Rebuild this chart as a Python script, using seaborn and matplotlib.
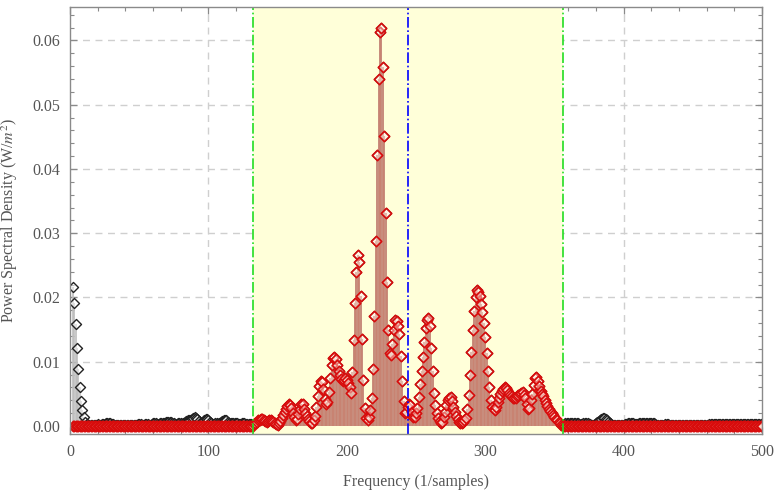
import numpy as np
import pandas as pd
import matplotlib
matplotlib.use("Agg")
import matplotlib.pyplot as plt
import seaborn as sns
from matplotlib.ticker import MultipleLocator, FormatStrFormatter

# Power spectrum, one value per frequency bin (first bin = 2)
psd_low = [
    0.0217, 0.0192, 0.0159, 0.0122, 0.0089, 0.0060, 0.0039, 0.0025, 0.0014, 0.0007,  # 2-11
    0.0003, 0.0002, 0.0002, 0.0002, 0.0001, 0.0002, 0.0002, 0.0002, 0.0003, 0.0002,  # 12-21
    0.0002, 0.0003, 0.0003, 0.0003, 0.0004, 0.0004, 0.0004, 0.0004, 0.0003, 0.0003,  # 22-31
    0.0002, 0.0002, 0.0002, 0.0001, 0.0002, 0.0002, 0.0002, 0.0002, 0.0001, 0.0001,  # 32-41
    0.0002, 0.0002, 0.0002, 0.0002, 0.0001, 0.0002, 0.0002, 0.0003, 0.0003, 0.0003,  # 42-51
    0.0002, 0.0002, 0.0003, 0.0003, 0.0003, 0.0002, 0.0002, 0.0003, 0.0004, 0.0004,  # 52-61
    0.0004, 0.0003, 0.0003, 0.0004, 0.0004, 0.0004, 0.0005, 0.0006, 0.0007, 0.0007,  # 62-71
    0.0007, 0.0006, 0.0005, 0.0004, 0.0003, 0.0003, 0.0004, 0.0004, 0.0004, 0.0003,  # 72-81
    0.0004, 0.0006, 0.0008, 0.0009, 0.0010, 0.0010, 0.0011, 0.0013, 0.0014, 0.0013,  # 82-91
    0.0011, 0.0008, 0.0005, 0.0004, 0.0006, 0.0009, 0.0011, 0.0011, 0.0009, 0.0006,  # 92-101
    0.0004, 0.0003, 0.0003, 0.0004, 0.0004, 0.0003, 0.0004, 0.0006, 0.0008, 0.0010,  # 102-111
    0.0010, 0.0009, 0.0007, 0.0005, 0.0004, 0.0004, 0.0005, 0.0005, 0.0004, 0.0004,  # 112-121
    0.0003, 0.0003, 0.0004, 0.0004, 0.0004, 0.0003, 0.0003, 0.0003, 0.0003, 0.0003,  # 122-131
    0.0003,                                                                          # 132
]
psd_pass = [
    0.0003, 0.0005, 0.0007, 0.0009, 0.0010, 0.0011, 0.0011, 0.0010, 0.0008, 0.0007,  # 133-142
    0.0008, 0.0009, 0.0009, 0.0008, 0.0006, 0.0004, 0.0003, 0.0002, 0.0004, 0.0008,  # 143-152
    0.0012, 0.0017, 0.0022, 0.0027, 0.0031, 0.0034, 0.0033, 0.0028, 0.0021, 0.0014,  # 153-162
    0.0010, 0.0011, 0.0018, 0.0027, 0.0034, 0.0035, 0.0027, 0.0020, 0.0015, 0.0011,  # 163-172
    0.0008, 0.0004, 0.0005, 0.0009, 0.0016, 0.0030, 0.0046, 0.0062, 0.0070, 0.0068,  # 173-182
    0.0058, 0.0042, 0.0034, 0.0038, 0.0053, 0.0075, 0.0095, 0.0106, 0.0108, 0.0104,  # 183-192
    0.0095, 0.0086, 0.0079, 0.0073, 0.0070, 0.0072, 0.0074, 0.0072, 0.0067, 0.0060,  # 193-202
    0.0052, 0.0084, 0.0134, 0.0192, 0.0240, 0.0266, 0.0255, 0.0203, 0.0135, 0.0072,  # 203-212
    0.0028, 0.0012, 0.0010, 0.0014, 0.0025, 0.0043, 0.0088, 0.0171, 0.0288, 0.0422,  # 213-222
    0.0540, 0.0613, 0.0620, 0.0558, 0.0452, 0.0331, 0.0224, 0.0149, 0.0114, 0.0111,  # 223-232
    0.0127, 0.0150, 0.0165, 0.0163, 0.0155, 0.0143, 0.0109, 0.0070, 0.0039, 0.0020,  # 233-242
    0.0022, 0.0030, 0.0035, 0.0032, 0.0022, 0.0014, 0.0014, 0.0020, 0.0028, 0.0045,  # 243-252
    0.0065, 0.0085, 0.0108, 0.0130, 0.0152, 0.0165, 0.0168, 0.0155, 0.0122, 0.0085,  # 253-262
    0.0052, 0.0032, 0.0020, 0.0013, 0.0008, 0.0005, 0.0007, 0.0014, 0.0022, 0.0032,  # 263-272
    0.0040, 0.0044, 0.0045, 0.0039, 0.0030, 0.0022, 0.0016, 0.0011, 0.0006, 0.0004,  # 273-282
    0.0004, 0.0007, 0.0010, 0.0013, 0.0026, 0.0049, 0.0079, 0.0115, 0.0150, 0.0179,  # 283-292
    0.0201, 0.0211, 0.0209, 0.0202, 0.0190, 0.0177, 0.0160, 0.0138, 0.0113, 0.0085,  # 293-302
    0.0060, 0.0040, 0.0030, 0.0026, 0.0025, 0.0030, 0.0038, 0.0044, 0.0050, 0.0055,  # 303-312
    0.0058, 0.0060, 0.0059, 0.0056, 0.0052, 0.0048, 0.0046, 0.0044, 0.0043, 0.0044,  # 313-322
    0.0046, 0.0048, 0.0050, 0.0052, 0.0053, 0.0049, 0.0044, 0.0034, 0.0027, 0.0028,  # 323-332
    0.0040, 0.0050, 0.0064, 0.0075, 0.0077, 0.0070, 0.0062, 0.0055, 0.0050, 0.0046,  # 333-342
    0.0041, 0.0036, 0.0031, 0.0027, 0.0024, 0.0021, 0.0017, 0.0014, 0.0011, 0.0009,  # 343-352
    0.0006, 0.0004, 0.0002, 0.0001,                                                  # 353-356
]
psd_high = [
    0.0003, 0.0004, 0.0005, 0.0005, 0.0005, 0.0004, 0.0004, 0.0005, 0.0005, 0.0005,  # 357-366
    0.0004, 0.0003, 0.0003, 0.0003, 0.0004, 0.0004, 0.0004, 0.0004, 0.0003, 0.0003,  # 367-376
    0.0002, 0.0002, 0.0003, 0.0004, 0.0006, 0.0008, 0.0010, 0.0011, 0.0012, 0.0012,  # 377-386
    0.0011, 0.0009, 0.0007, 0.0005, 0.0003, 0.0002, 0.0002, 0.0002, 0.0002, 0.0001,  # 387-396
    0.0002, 0.0002, 0.0002, 0.0002, 0.0003, 0.0003, 0.0004, 0.0005, 0.0005, 0.0005,  # 397-406
    0.0004, 0.0003, 0.0003, 0.0003, 0.0004, 0.0004, 0.0004, 0.0005, 0.0005, 0.0005,  # 407-416
    0.0004, 0.0004, 0.0004, 0.0005, 0.0005, 0.0004, 0.0003, 0.0002, 0.0002, 0.0002,  # 417-426
    0.0002, 0.0002, 0.0002, 0.0003, 0.0003, 0.0003, 0.0002, 0.0002, 0.0002, 0.0002,  # 427-436
    0.0001, 0.0001, 0.0002, 0.0002, 0.0002, 0.0001, 0.0001, 0.0001, 0.0001, 0.0001,  # 437-446
    0.0001, 0.0001, 0.0001, 0.0001, 0.0001, 0.0001, 0.0002, 0.0002, 0.0002, 0.0002,  # 447-456
    0.0002, 0.0002, 0.0002, 0.0002, 0.0002, 0.0003, 0.0003, 0.0003, 0.0003, 0.0003,  # 457-466
    0.0003, 0.0003, 0.0003, 0.0003, 0.0003, 0.0003, 0.0003, 0.0003, 0.0003, 0.0003,  # 467-476
    0.0003, 0.0003, 0.0003, 0.0003, 0.0003, 0.0003, 0.0003, 0.0003, 0.0003, 0.0003,  # 477-486
    0.0003, 0.0003, 0.0003, 0.0003, 0.0003, 0.0003, 0.0003, 0.0003, 0.0003, 0.0003,  # 487-496
    0.0003, 0.0003, 0.0003, 0.0003,                                                  # 497-500
]

first_bin = 2
band_low, band_center, band_high = 132.2, 244.2, 356.2

x_ticks = [0, 100, 200, 300, 400, 500]
y_ticks = [0.00, 0.01, 0.02, 0.03, 0.04, 0.05, 0.06]

psd = np.array(psd_low + psd_pass + psd_high)
freq = np.arange(first_bin, first_bin + len(psd))
in_band = (freq >= band_low) & (freq <= band_high)
filtered = np.where(in_band, psd, 0.0)

df = pd.DataFrame({"freq": freq, "psd": psd, "filtered": filtered})

sns.set_theme(style="ticks")
plt.rcParams["font.family"] = ["Liberation Serif", "DejaVu Serif"]
plt.rcParams["mathtext.fontset"] = "stix"

fig = plt.figure(figsize=(7.77, 4.95), dpi=100)
ax = fig.add_axes([0.0901, 0.1232, 0.8906, 0.8627])

ax.set_xlim(0, 500)
ax.set_ylim(-0.00124, 0.0652)

# grid underneath the passband shading
ax.set_axisbelow(True)
for gx in x_ticks[1:-1]:
    ax.axvline(gx, color="#cfcfcf", lw=1.0, ls=(0, (5, 4)), zorder=0.5)
for gy in y_ticks[1:]:
    ax.axhline(gy, color="#cfcfcf", lw=1.0, ls=(0, (5, 4)), zorder=0.5)

ax.axvspan(band_low, band_high, color="#ffffd9", zorder=1, lw=0)

# full spectrum: gray stems and dark diamonds
ax.vlines(df["freq"], 0, df["psd"], color="#bdbdbd", lw=1.2, zorder=2)
sns.scatterplot(data=df, x="freq", y="psd", ax=ax, marker="D", s=26,
                facecolor=(1, 1, 1, 0.45), edgecolor="#222222", linewidth=1.0,
                zorder=3, legend=False)

# band-pass filtered spectrum: red stems and red diamonds
ax.vlines(df["freq"], 0, df["filtered"], color="#c98270", lw=1.2, zorder=4)
sns.scatterplot(data=df, x="freq", y="filtered", ax=ax, marker="D", s=28,
                facecolor=(1, 0.92, 0.88, 0.45), edgecolor="#d80c0c", linewidth=1.2,
                zorder=5, legend=False)

ax.axvline(band_low, color="#22dd22", lw=1.2, ls="-.", zorder=6)
ax.axvline(band_high, color="#22dd22", lw=1.2, ls="-.", zorder=6)
ax.axvline(band_center, color="#0000ff", lw=1.2, ls="-.", zorder=6)

ax.set_xticks(x_ticks)
ax.set_yticks(y_ticks)
ax.xaxis.set_minor_locator(MultipleLocator(20))
ax.yaxis.set_minor_locator(MultipleLocator(0.002))
ax.yaxis.set_major_formatter(FormatStrFormatter("%.2f"))
ax.tick_params(which="both", direction="in", top=True, right=True,
               color="#8a8a8a", labelcolor="#555555", labelsize=11.5, pad=7)
ax.tick_params(which="major", length=5, width=0.9)
ax.tick_params(which="minor", length=3, width=0.8)
for sp in ax.spines.values():
    sp.set_color("#8a8a8a")
    sp.set_linewidth(1.0)
    sp.set_zorder(7)

ax.set_xlabel("Frequency (1/samples)", color="#555555", fontsize=11.5, labelpad=10)
ax.set_ylabel("Power Spectral Density (W/$m^2$)", color="#555555", fontsize=11.5, labelpad=9)

fig.savefig("out.png", dpi=100)
